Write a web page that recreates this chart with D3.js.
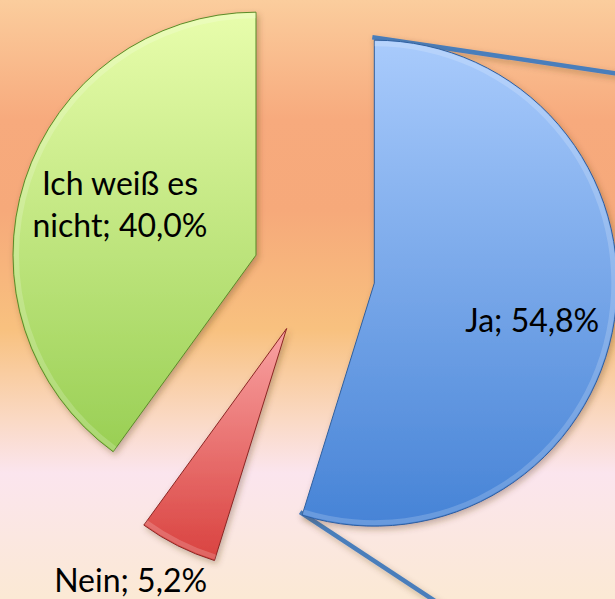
<!DOCTYPE html>
<html>
<head>
<meta charset="utf-8">
<script src="https://cdn.jsdelivr.net/npm/d3@7"></script>
<style>
  html, body { margin: 0; padding: 0; overflow: hidden; }
  svg { display: block; }
</style>
</head>
<body>
<div id="chart"></div>
<script>
// data
var categories = ["Ja", "Nein", "Ich weiß es nicht"];
var values = [54.8, 5.2, 40.0];
var labelLines = [["Ja; 54,8%"], ["Nein; 5,2%"], ["Ich weiß es", "nicht; 40,0%"]];

// slice colours: [top, bottom, edge]
var sliceColors = [
	["#a9cbfc", "#4683d6", "#2f5f9e"],
	["#f9a3a3", "#d9423f", "#8c2624"],
	["#e8fdac", "#99cf54", "#5b8a2a"]
];

var width = 615, height = 599;
var center = [314, 274];
var radius = 243;
var explode = 61;

var svg = d3.select("#chart").append("svg")
	.attr("width", width)
	.attr("height", height);

var defs = svg.append("defs");

// background gradient
var bg = defs.append("linearGradient")
	.attr("id", "bg")
	.attr("x1", 0).attr("y1", 0).attr("x2", 0).attr("y2", 1);
[
	[0, "#fbcd9d"],
	[0.2, "#f7aa7d"],
	[0.35, "#f6a97a"],
	[0.55, "#f8c17f"],
	[0.7, "#fad9c4"],
	[0.79, "#fbe5ee"],
	[1, "#fbe9d4"]
].forEach(function(s) {
	bg.append("stop").attr("offset", s[0]).attr("stop-color", s[1]);
});

svg.append("rect")
	.attr("width", width)
	.attr("height", height)
	.attr("fill", "url(#bg)");

// soft shadow
var shadow = defs.append("filter")
	.attr("id", "shadow")
	.attr("x", "-20%").attr("y", "-20%")
	.attr("width", "140%").attr("height", "140%");
shadow.append("feDropShadow")
	.attr("dx", 2).attr("dy", 3)
	.attr("stdDeviation", 3)
	.attr("flood-color", "#5a3a20")
	.attr("flood-opacity", 0.35);

var pie = d3.pie().sort(null).value(function(d) { return d; });
var arcs = pie(values);

var arc = d3.arc().innerRadius(0).outerRadius(radius);

function sliceOffset(d) {
	var a = (d.startAngle + d.endAngle) / 2;
	return [center[0] + explode * Math.sin(a), center[1] - explode * Math.cos(a)];
}

arcs.forEach(function(d, i) {
	var g = defs.append("linearGradient")
		.attr("id", "slice" + i)
		.attr("x1", 0).attr("y1", 0).attr("x2", 0).attr("y2", 1);
	g.append("stop").attr("offset", 0).attr("stop-color", sliceColors[i][0]);
	g.append("stop").attr("offset", 1).attr("stop-color", sliceColors[i][1]);
});

// connector lines toward the (cropped) secondary plot
var ja = arcs[0];
var jaPos = sliceOffset(ja);
var connectorEnds = [[700, 86], [520, 657]];
var connectorStarts = [ja.startAngle, ja.endAngle].map(function(a) {
	return [jaPos[0] + radius * Math.sin(a), jaPos[1] - radius * Math.cos(a)];
});

svg.append("g")
	.attr("filter", "url(#shadow)")
	.selectAll("line")
	.data(connectorStarts)
	.join("line")
		.attr("x1", function(d) { return d[0] - 2; })
		.attr("y1", function(d) { return d[1] - 3; })
		.attr("x2", function(d, i) { return connectorEnds[i][0]; })
		.attr("y2", function(d, i) { return connectorEnds[i][1]; })
		.attr("stroke", "#4a7ebb")
		.attr("stroke-width", 4.5);

var slices = svg.append("g")
	.selectAll("g.slice")
	.data(arcs)
	.join("g")
		.attr("class", "slice")
		.attr("transform", function(d) { return "translate(" + sliceOffset(d) + ")"; });

slices.append("path")
	.attr("d", arc)
	.attr("fill", function(d, i) { return "url(#slice" + i + ")"; })
	.attr("stroke", function(d, i) { return sliceColors[i][2]; })
	.attr("stroke-width", 1)
	.attr("filter", "url(#shadow)");

// bevel-ish highlight on the rim
slices.append("path")
	.attr("d", d3.arc().innerRadius(radius - 6).outerRadius(radius - 1))
	.attr("fill", "#ffffff")
	.attr("fill-opacity", 0.18);

// labels
var labelFont = "Lato, 'Open Sans', sans-serif";
var fontSize = 32;
var labelAnchors = [
	function(p) { return [p[0] + 158, p[1] + 38]; },
	function(p) { return [p[0] - 156, p[1] + 252]; },
	function(p) { return [p[0] - 136, p[1] - 50]; }
];

svg.append("g")
	.selectAll("text")
	.data(arcs)
	.join("text")
		.attr("font-family", labelFont)
		.attr("font-size", fontSize)
		.attr("fill", "#000")
		.attr("text-anchor", "middle")
		.each(function(d, i) {
			var p = labelAnchors[i](sliceOffset(d));
			var lines = labelLines[i];
			var lh = 42;
			var y0 = p[1] - (lines.length - 1) * lh / 2;
			var t = d3.select(this);
			lines.forEach(function(l, k) {
				t.append("tspan")
					.attr("x", p[0])
					.attr("y", y0 + k * lh)
					.attr("dy", "0.35em")
					.text(l);
			});
		});
</script>
</body>
</html>
